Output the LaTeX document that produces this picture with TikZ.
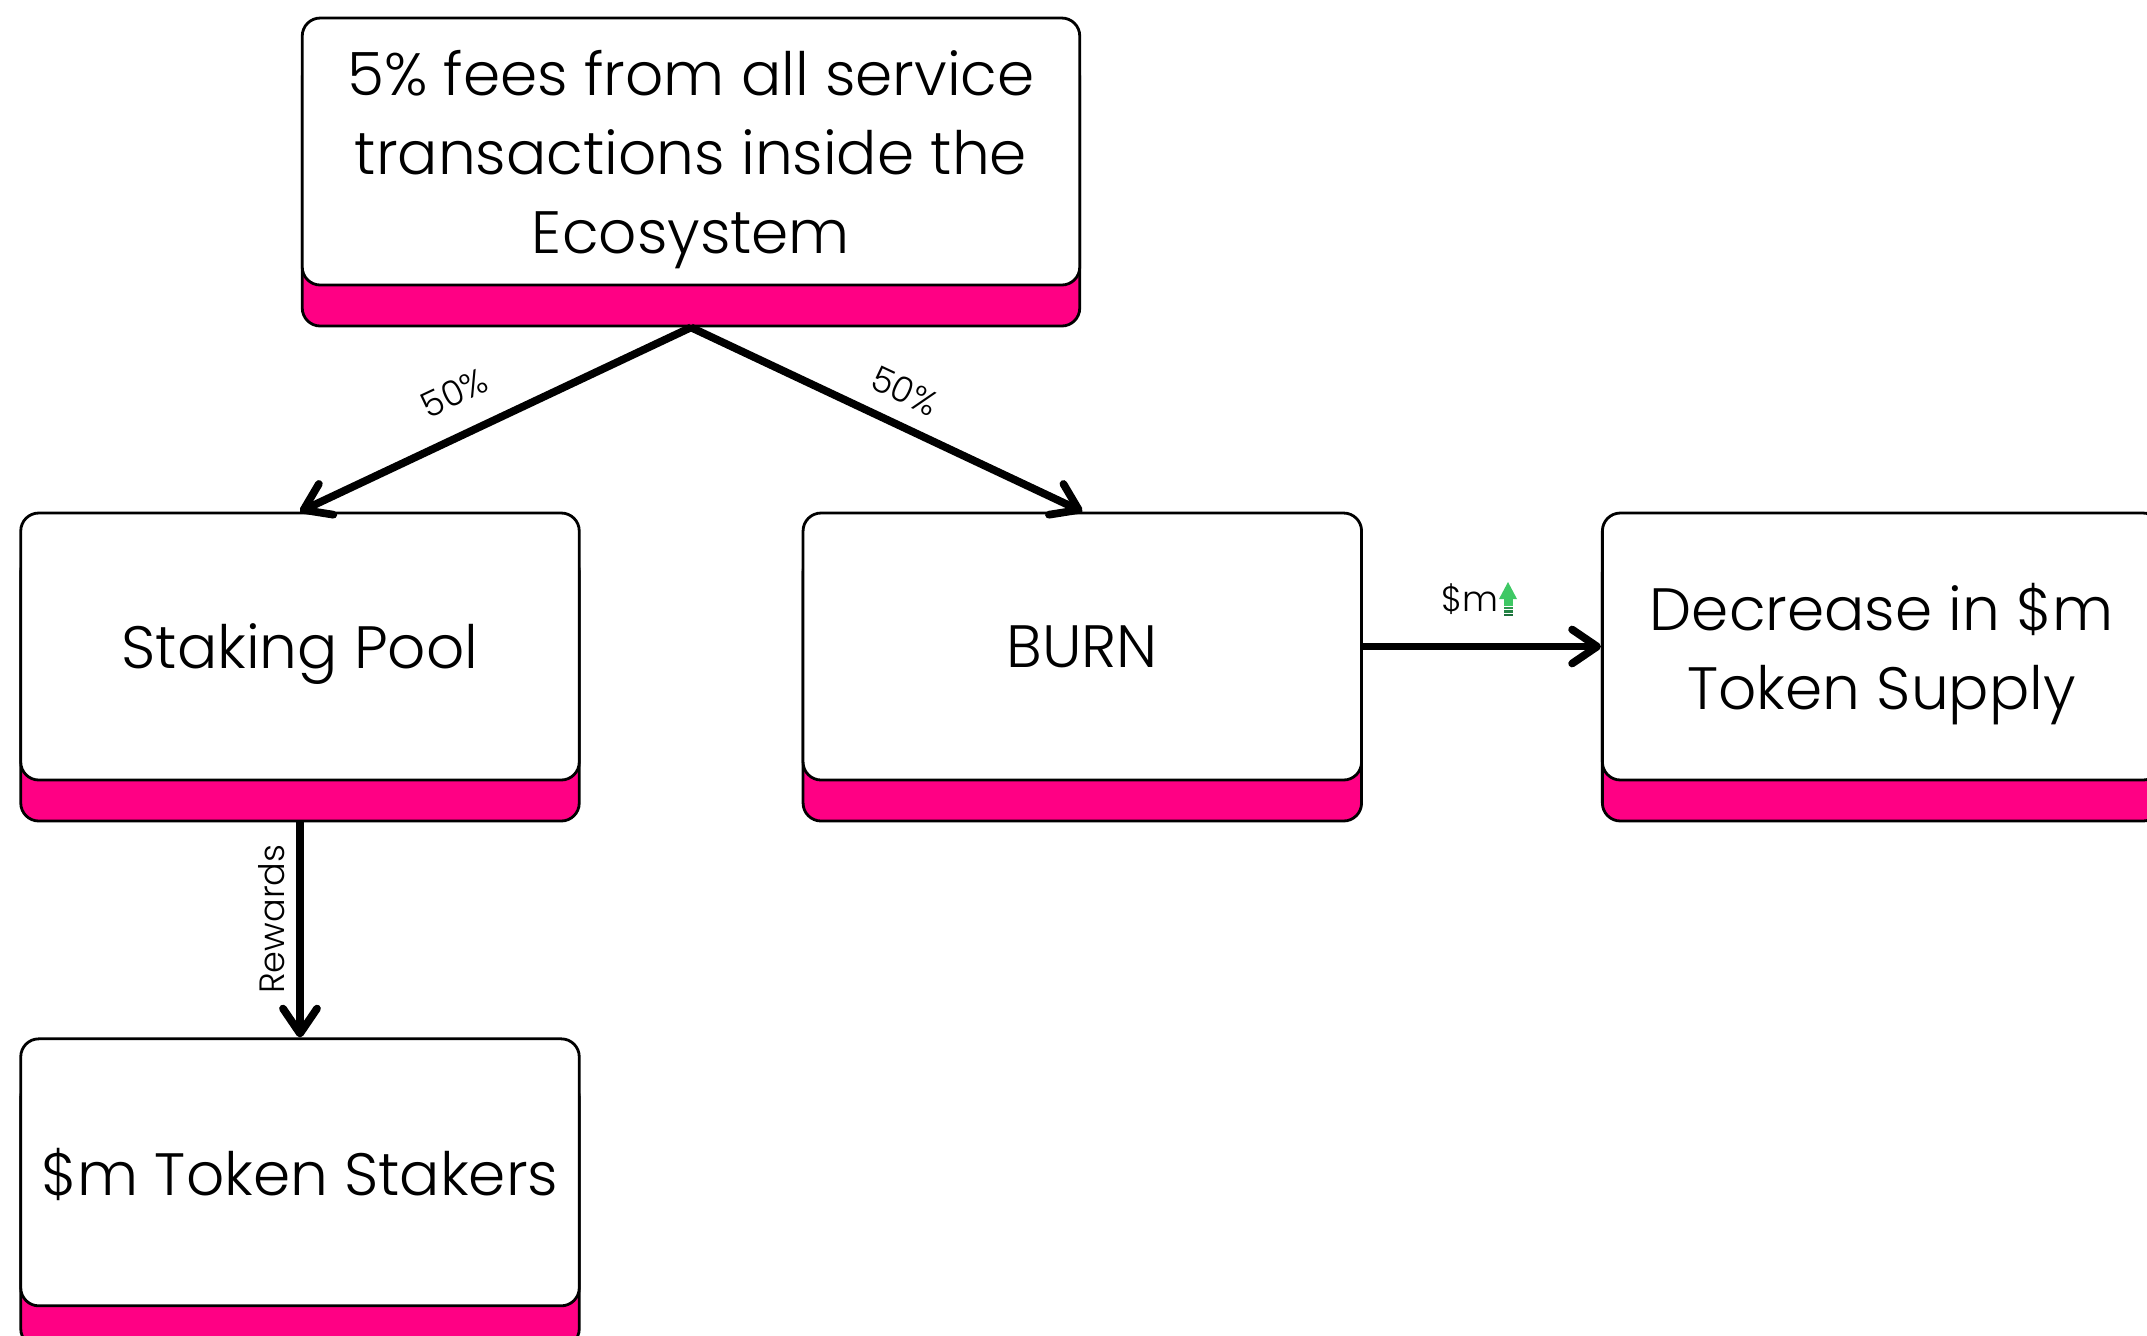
\documentclass[tikz,border=0pt]{standalone}
\usepackage{fontspec}
\setmainfont{Poppins}[UprightFont={* Light}]
\usepackage{xcolor}
\usepackage{tikz}
\usetikzlibrary{arrows.meta, positioning, calc, shadows}
\definecolor{tokenpink}{RGB}{255,0,132}
\definecolor{upgreen}{RGB}{62,200,100}
\definecolor{upgreendark}{RGB}{28,110,58}
\tikzstyle{card} = [rectangle, rounded corners=0.18cm, minimum width=5.585cm, minimum height=2.67cm, text depth=0pt, align=center, draw=black, line width=0.8pt, fill=white, font=\fontsize{17}{22.5}\selectfont, copy shadow={shadow xshift=0cm, shadow yshift=-0.41cm, fill=tokenpink, draw=black, line width=0.8pt}]
\tikzstyle{flow} = [line width=2.2pt, -{Straight Barb[length=0.25cm, width=0.34cm, round]}]
\tikzstyle{tag} = [font=\fontsize{10}{12}\selectfont]

\begin{document}
\begin{tikzpicture}
\useasboundingbox (0,0) rectangle (21.47,-13.35);
\clip (0,0) rectangle (21.47,-13.35);

\node [card, minimum width=7.775cm] (fees) at (6.91,-1.515) {5\% fees from all service\\transactions inside the\\Ecosystem};
\node [card] (pool) at (3.0,-6.465) {Staking Pool};
\node [card, right=2.21cm of pool] (burn) {BURN};
\node [card, right=2.38cm of burn] (supply) {Decrease in \$m\\Token Supply};
\node [card, below=2.56cm of pool] (stakers) {\$m Token Stakers};

\draw [flow] ([yshift=-0.41cm]fees.south) -- node[tag, sloped, above=0.13cm, pos=0.56] {50\%} (pool.north);
\draw [flow] ([yshift=-0.41cm]fees.south) -- node[tag, sloped, above=0.05cm, pos=0.51] {50\%} (burn.north);
\draw [flow] ([yshift=-0.41cm]pool.south) -- node[tag, pos=0.45, rotate=90, anchor=south] {Rewards} (stakers.north);
\draw [flow] (burn.east) -- node[tag, above=0.16cm, xshift=-0.12cm] (gain) {\$m} (supply.west);

% little green up arrow next to the $m tag
\begin{scope}[shift={($(gain.east)+(-0.15,0)$)}]
  \fill [upgreen] (0,0.005) -- (0.09,0.175) -- (0.18,0.005) -- cycle;
  \fill [upgreen] (0.045,0.005) rectangle (0.135,-0.06);
  \foreach \y/\c in {-0.07/55, -0.105/75, -0.14/100}
    \fill [upgreendark!\c!upgreen] (0.045,\y) rectangle (0.135,\y-0.028);
\end{scope}
\end{tikzpicture}
\end{document}
